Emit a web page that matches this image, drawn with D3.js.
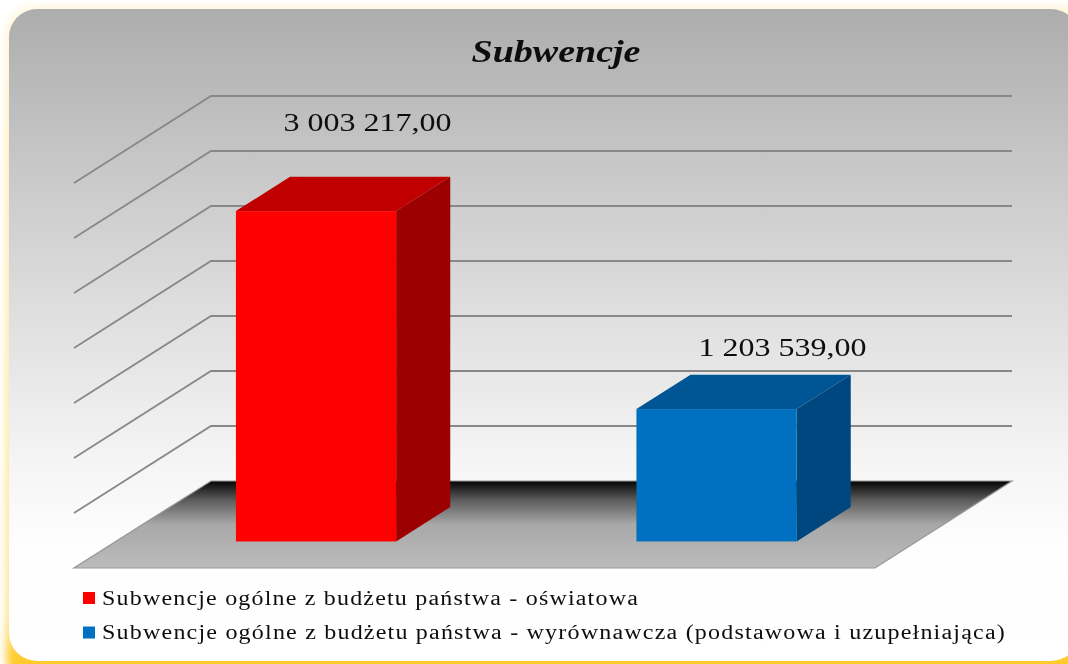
<!DOCTYPE html>
<html>
<head>
<meta charset="utf-8">
<script src="https://cdn.jsdelivr.net/npm/d3@7"></script>
<style>
  html, body { margin: 0; background: #fff; overflow: hidden; }
  svg { display: block; }
  text { font-family: "Liberation Serif", serif; fill: #0c0c0c; }
</style>
</head>
<body>
<div id="canvas"></div>
<script>
const title = "Subwencje";
const categories = ["oswiatowa", "wyrownawcza"];
const values = [3003217, 1203539];
const valueLabels = ["3 003 217,00", "1 203 539,00"];
const legendLabels = [
  "Subwencje ogólne z budżetu państwa - oświatowa",
  "Subwencje ogólne z budżetu państwa - wyrównawcza (podstawowa i uzupełniająca)"
];
const frontColors = ["#ff0000", "#0070c0"];
const topColors = ["#c00000", "#005595"];
const sideColors = ["#9c0000", "#00477f"];
const maxValue = 3500000;
const tickStep = 500000;

const width = 1068;
const height = 664;
const wall = { left: 211, right: 1012, top: 96, bottom: 481 };
const depth = { dx: -137, dy: 87 };
const barBack = 0.3, barFront = 0.695;

const svg = d3.select("#canvas").append("svg").attr("width", width).attr("height", height);
const defs = svg.append("defs");

function grad(id, stops, y1, y2) {
  const g = defs.append("linearGradient").attr("id", id)
    .attr("gradientUnits", "userSpaceOnUse")
    .attr("x1", 0).attr("x2", 0).attr("y1", y1).attr("y2", y2);
  stops.forEach(s => g.append("stop").attr("offset", s[0]).attr("stop-color", s[1]));
}
grad("panelFill", [[0, "#adadad"], [0.246, "#c8c8c8"], [0.44, "#dcdcdc"], [0.7, "#f5f5f5"], [0.83, "#fefefe"], [1, "#ffffff"]], 9, 660);
grad("floorFill", [[0, "#050505"], [0.22, "#5c5c5c"], [0.5, "#a8a8a8"], [0.8, "#b4b4b4"], [1, "#bcbcbc"]], 481, 568);
grad("glow", [[0, "#fff6da"], [0.25, "#ffedb8"], [0.93, "#ffe288"], [0.99, "#ffcc30"], [1, "#ffc928"]], 0, 664);
defs.append("filter").attr("id", "soft").attr("x", "-5%").attr("y", "-5%").attr("width", "110%").attr("height", "110%")
  .append("feGaussianBlur").attr("stdDeviation", 4);
defs.append("filter").attr("id", "tiny").append("feGaussianBlur").attr("stdDeviation", 0.45);

// frame and glow
svg.append("rect").attr("x", 6).attr("y", 6).attr("width", 1090).attr("height", 680).attr("rx", 30)
  .attr("fill", "url(#glow)").attr("filter", "url(#soft)");
svg.append("rect").attr("x", 9).attr("y", 9).attr("width", 1070).attr("height", 652).attr("rx", 28)
  .attr("fill", "url(#panelFill)");

const x = d3.scaleBand().domain(categories).range([wall.left, wall.right]).paddingInner(0.6).paddingOuter(0.3);
const y = d3.scaleLinear().domain([0, maxValue]).range([wall.bottom, wall.top]);
const project = (px, py, t) => [px + depth.dx * t, py + depth.dy * t];
const line = d3.line();

const chart = svg.append("g").attr("filter", "url(#tiny)");

// gridlines
const ticks = d3.range(tickStep, maxValue + 1, tickStep);
chart.selectAll("path.grid").data(ticks).enter().append("path")
  .attr("class", "grid").attr("fill", "none").attr("stroke", "#888888").attr("stroke-width", 1.8)
  .attr("d", d => line([project(wall.left, y(d), 1), [wall.left, y(d)], [wall.right, y(d)]]));

// floor
chart.append("path").attr("fill", "url(#floorFill)").attr("stroke", "#979797").attr("stroke-width", 1.2)
  .attr("d", line([[wall.left, y(0)], [wall.right, y(0)], project(wall.right, y(0), 1), project(wall.left, y(0), 1)]) + "Z");

// bars
const bars = chart.selectAll("g.bar").data(values).enter().append("g").attr("class", "bar");
const topFace = (d, i) => {
  const l = x(categories[i]), r = l + x.bandwidth();
  return line([project(l, y(d), barBack), project(r, y(d), barBack), project(r, y(d), barFront), project(l, y(d), barFront)]) + "Z";
};
const sideFace = (d, i) => {
  const r = x(categories[i]) + x.bandwidth();
  return line([project(r, y(d), barBack), project(r, y(d), barFront), project(r, y(0), barFront), project(r, y(0), barBack)]) + "Z";
};
bars.append("path").attr("fill", (d, i) => topColors[i]).attr("d", topFace);
bars.append("path").attr("fill", (d, i) => sideColors[i]).attr("d", sideFace);
bars.append("rect").attr("fill", (d, i) => frontColors[i])
  .attr("x", (d, i) => project(x(categories[i]), 0, barFront)[0])
  .attr("y", d => project(0, y(d), barFront)[1])
  .attr("width", x.bandwidth())
  .attr("height", d => y(0) - y(d));

// value labels, placed by hand in the original so the offsets differ per bar
const labelDx = [51.5, 66];
const labelDy = [-46, -19];
const labels = svg.append("g").attr("filter", "url(#tiny)");
labels.selectAll("text.value").data(valueLabels).enter().append("text")
  .attr("class", "value").attr("text-anchor", "middle")
  .attr("font-size", 25).attr("textLength", 168).attr("lengthAdjust", "spacingAndGlyphs")
  .attr("x", (d, i) => project(x(categories[i]) + x.bandwidth() / 2, 0, barFront)[0] + labelDx[i])
  .attr("y", (d, i) => project(0, y(values[i]), barBack)[1] + labelDy[i])
  .text(d => d);

labels.append("text").attr("x", 556).attr("y", 62).attr("text-anchor", "middle")
  .attr("font-size", 32).attr("font-weight", "bold").attr("font-style", "italic")
  .attr("textLength", 169).attr("lengthAdjust", "spacingAndGlyphs")
  .text(title);

// legend
const legend = labels.selectAll("g.legend").data(legendLabels).enter().append("g")
  .attr("class", "legend")
  .attr("transform", (d, i) => `translate(83,${592 + i * 34.5})`);
legend.append("rect").attr("width", 12).attr("height", 12).attr("fill", (d, i) => frontColors[i]);
legend.append("text").attr("x", 19).attr("y", 12.5).attr("font-size", 20)
  .style("letter-spacing", "1px")
  .attr("lengthAdjust", "spacingAndGlyphs")
  .attr("textLength", (d, i) => i ? 904 : 537)
  .text(d => d);
</script>
</body>
</html>
